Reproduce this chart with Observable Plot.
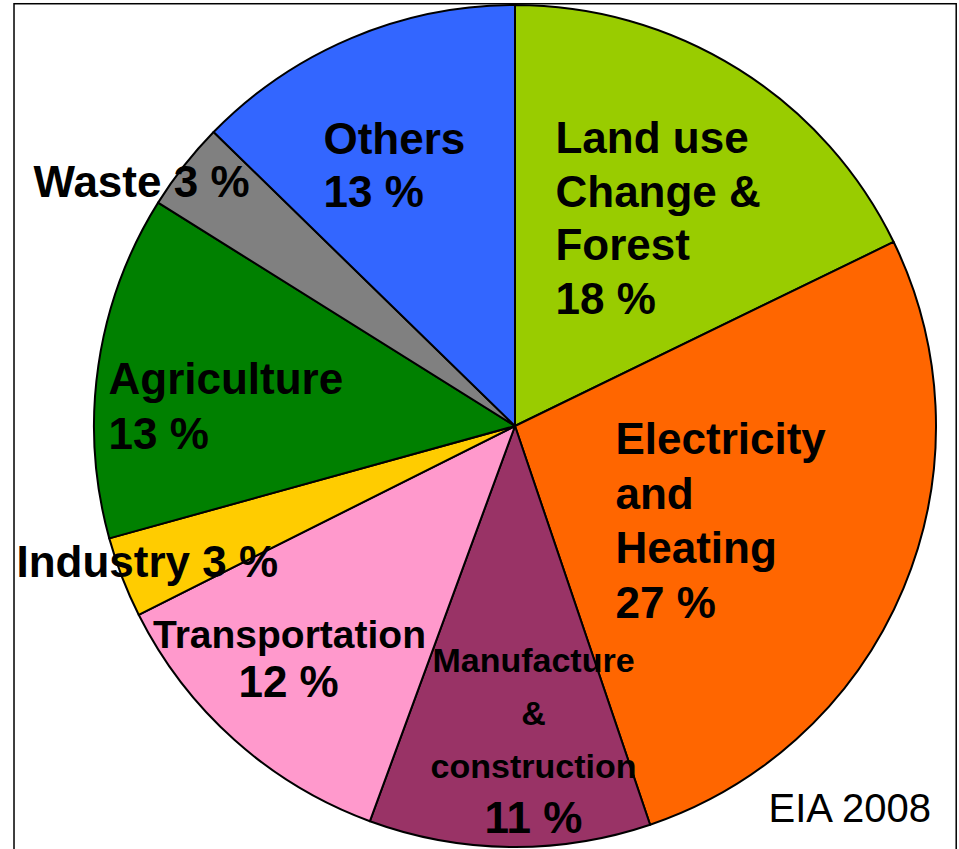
<!DOCTYPE html>
<html><head><meta charset="utf-8">
<script src="https://cdn.jsdelivr.net/npm/d3@7"></script>
<script src="https://cdn.jsdelivr.net/npm/@observablehq/plot@0.6"></script>
<style>
html,body{margin:0;padding:0;background:#fff;}
#chart svg{display:block;}
</style></head><body><div id="chart"></div>
<script>
// ---- data ----
const categories = ["Land use Change & Forest","Electricity and Heating","Manufacture & construction","Transportation","Industry","Agriculture","Waste","Others"];
// labelled (rounded) percentages
const values = [18, 27, 11, 12, 3, 13, 3, 13];
// slice shares as drawn in the picture
const shares = [17.8, 27.0, 10.8, 12.0, 3.1, 13.2, 3.4, 12.7];
const colors = ["#99CC00","#FF6600","#993366","#FF99CC","#FFCC00","#008000","#808080","#3366FF"];
const labelNames = ["Land use\nChange &\nForest","Electricity\nand\nHeating","Manufacture\n&\nconstruction","Transportation","Industry","Agriculture","Waste","Others"];
const source = "EIA 2008";

// ---- layout (pie units: centre = 0,0, radius = 1) ----
const W = 959, H = 849, CX = 515, CY = 426, R = 421;
const frameBox = {x1: -1.19, x2: 1.048, y1: 1.003, y2: -1.05};
const labelLayout = [
  {mode: "stack", x: 0.095, y: 0.2684, anchor: "start", size: 44, lh: 1.216},
  {mode: "stack", x: 0.2375, y: -0.4537, anchor: "start", size: 44, lh: 1.235},
  {mode: "split", x: 0.0428, y: -0.836, anchor: "middle", size: 34, lh: 1.573, sy: 0.86,
                  px: 0.0428, py: -0.9667, psize: 44, psy: 0.89},
  {mode: "split", x: -0.5368, y: -0.525, anchor: "middle", size: 39, lh: 1.2,
                  px: -0.539, py: -0.6437, psize: 44},
  {mode: "inline", x: -1.1853, y: -0.3563, anchor: "start", size: 44},
  {mode: "stack", x: -0.9668, y: -0.0523, anchor: "start", size: 44, lh: 1.25},
  {mode: "inline", x: -1.1449, y: 0.544, anchor: "start", size: 44},
  {mode: "stack", x: -0.4561, y: 0.5202, anchor: "start", size: 44, lh: 1.227}
];
const sourceLayout = {x: 0.601, y: -0.9406, size: 40};

const rows = categories.map((c, i) => ({category: c, value: values[i], share: shares[i], name: labelNames[i]}));
const color = Plot.scale({color: {type: "ordinal", domain: categories, range: colors}});

const FONT = "'Liberation Sans', Arial, Helvetica, sans-serif";

function pieMark(index, scales) {
  const cx = scales.x(0), cy = scales.y(0), r = scales.x(1) - scales.x(0);
  const arcs = d3.pie().sort(null).value(d => d.share)(rows);
  const arc = d3.arc().innerRadius(0).outerRadius(r);
  const g = d3.create("svg:g").attr("transform", `translate(${cx},${cy})`);
  g.selectAll("path").data(arcs).join("path")
    .attr("d", arc)
    .attr("fill", d => color.apply(d.data.category))
    .attr("stroke", "#000")
    .attr("stroke-width", 2)
    .attr("stroke-linejoin", "round");
  return g.node();
}

function textMark(text, x, y, opts) {
  return Plot.text([{text, x, y}], {
    x: "x", y: "y", text: "text",
    textAnchor: opts.anchor || "start",
    lineAnchor: "bottom",
    lineHeight: opts.lh || 1.2,
    fontSize: opts.size,
    fontWeight: opts.weight || "bold",
    fontFamily: FONT,
    fill: "#000",
    ariaLabel: opts.sy ? "squish-" + opts.sy : "label"
  });
}

const labelMarks = [];
rows.forEach((d, i) => {
  const L = labelLayout[i];
  const pct = `${d.value} %`;
  if (L.mode === "stack") {
    labelMarks.push(textMark(`${d.name}\n${pct}`, L.x, L.y, L));
  } else if (L.mode === "inline") {
    labelMarks.push(textMark(`${d.name} ${pct}`, L.x, L.y, L));
  } else {
    labelMarks.push(textMark(d.name, L.x, L.y, L));
    labelMarks.push(textMark(pct, L.px, L.py, {anchor: L.anchor, size: L.psize, sy: L.psy}));
  }
});

const chart = Plot.plot({
  width: W, height: H,
  margin: 0,
  x: {domain: [(0 - CX) / R, (W - CX) / R], axis: null},
  y: {domain: [(CY - H) / R, CY / R], axis: null},
  style: {background: "#fff", overflow: "visible"},
  marks: [
    Plot.rect([{}], {x1: frameBox.x1, x2: frameBox.x2, y1: frameBox.y1, y2: frameBox.y2,
                     fill: "none", stroke: "#000", strokeWidth: 1.5}),
    pieMark,
    ...labelMarks,
    Plot.text([{text: source, x: sourceLayout.x, y: sourceLayout.y}], {
      x: "x", y: "y", text: "text", textAnchor: "start", lineAnchor: "bottom",
      fontSize: sourceLayout.size, fontWeight: "normal", fontFamily: FONT, fill: "#000"
    })
  ]
});

// vertical squish for condensed-looking labels
chart.querySelectorAll('g[aria-label^="squish-"]').forEach(g => {
  const s = g.getAttribute("aria-label").slice(7);
  g.querySelectorAll("text").forEach(t => {
    const tr = t.getAttribute("transform") || "";
    t.setAttribute("transform", `${tr} scale(1,${s})`);
  });
});

document.getElementById("chart").appendChild(chart);
</script>
</body></html>
